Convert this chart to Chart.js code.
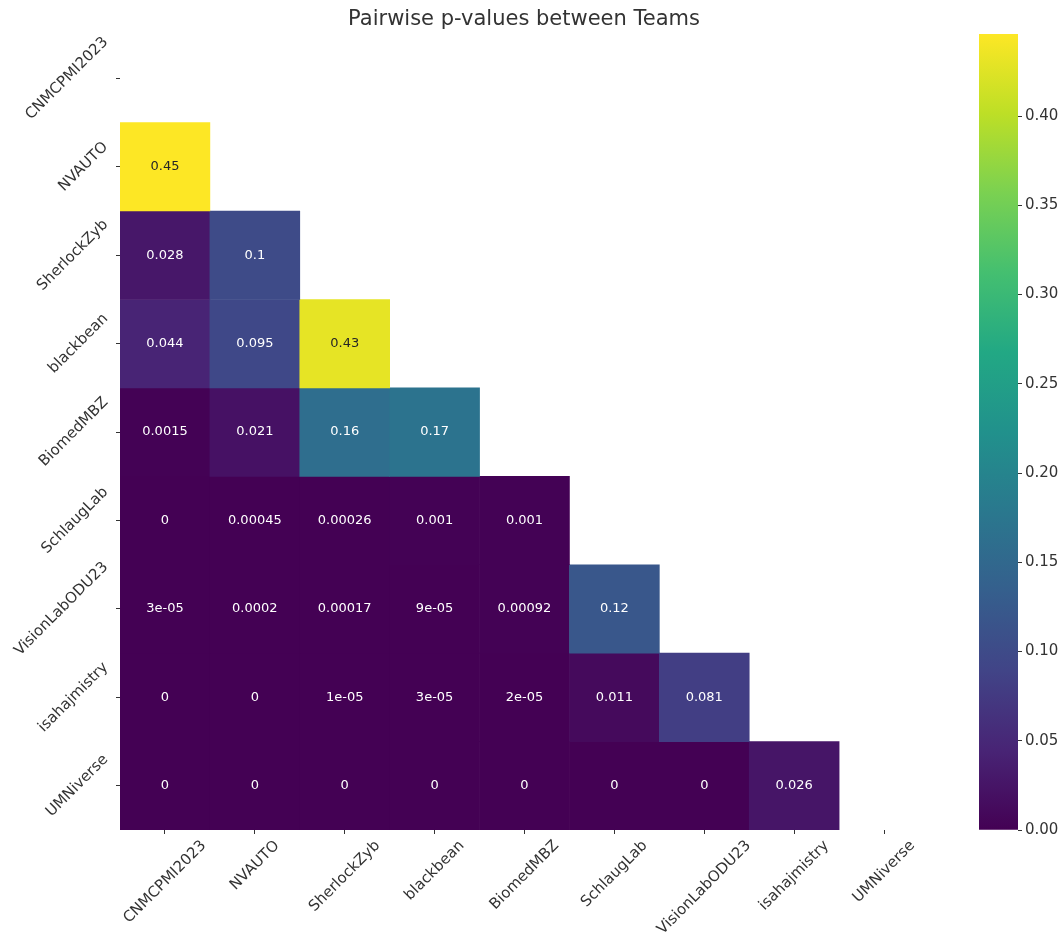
<!DOCTYPE html>
<html>
<head>
<meta charset="utf-8">
<script src="https://cdn.jsdelivr.net/npm/chart.js@4.4.1/dist/chart.umd.min.js"></script>
<style>
  body { margin: 0; background: #ffffff; }
  #wrap { position: relative; width: 1062px; height: 936px; }
  #heatBox { position: absolute; left: 0; top: 0; width: 1062px; height: 936px; }
  #barBox { position: absolute; left: 960px; top: 0; width: 102px; height: 936px; }
</style>
</head>
<body>
<div id="wrap">
  <div id="heatBox"><canvas id="heatChart"></canvas></div>
  <div id="barBox"><canvas id="colorBar"></canvas></div>
</div>
<script>
// ==========================================
// DATA
// ==========================================

const teams = [
    "CNMCPMI2023",
    "NVAUTO",
    "SherlockZyb",
    "blackbean",
    "BiomedMBZ",
    "SchlaugLab",
    "VisionLabODU23",
    "isahajmistry",
    "UMNiverse"
];

// lower triangle, row i holds the values against teams[0..i-1]
const pValues = [
    [],
    [0.446],
    [0.028, 0.1],
    [0.044, 0.095, 0.43],
    [0.0015, 0.021, 0.16, 0.17],
    [0, 0.00045, 0.00026, 0.001, 0.001],
    [3e-05, 0.0002, 0.00017, 9e-05, 0.00092, 0.12],
    [0, 0, 1e-05, 3e-05, 2e-05, 0.011, 0.081],
    [0, 0, 0, 0, 0, 0, 0, 0.026]
];

const colorTicks = [0, 0.05, 0.10, 0.15, 0.20, 0.25, 0.30, 0.35, 0.40];

const colorMax = Math.max(...pValues.flat());

// ==========================================
// HELPERS
// ==========================================

const viridisStops = [
    "#440154", "#482475", "#414487", "#355f8d", "#2a788e", "#21918c",
    "#22a884", "#44bf70", "#7ad151", "#bddf26", "#fde725"
];

function hexRgb(h){
    return [parseInt(h.slice(1,3),16), parseInt(h.slice(3,5),16), parseInt(h.slice(5,7),16)];
}

function viridisRgb(t){
    t = Math.max(0, Math.min(1, t));
    const pos = t * (viridisStops.length - 1);
    const k = Math.min(viridisStops.length - 2, Math.floor(pos));
    const f = pos - k;
    const a = hexRgb(viridisStops[k]);
    const b = hexRgb(viridisStops[k + 1]);
    return a.map((v, i) => Math.round(v + (b[i] - v) * f));
}

function rgbStr(c){
    return "rgb(" + c[0] + "," + c[1] + "," + c[2] + ")";
}

function luminance(c){
    const l = c.map(v => {
        v = v / 255;
        return v <= 0.03928 ? v / 12.92 : Math.pow((v + 0.055) / 1.055, 2.4);
    });
    return 0.2126 * l[0] + 0.7152 * l[1] + 0.0722 * l[2];
}

// like python's ".2g"
function fmt(v){
    if (v === 0) return "0";
    const e = Math.floor(Math.log10(Math.abs(v)));
    if (e < -4) {
        let s = v.toExponential(1).replace(/\.?0+e/, "e");
        return s.replace(/e([+-])(\d)$/, "e$10$2");
    }
    return String(parseFloat(v.toPrecision(2)));
}

const FONT = "'DejaVu Sans', 'Liberation Sans', sans-serif";

// ==========================================
// HEATMAP (floating bars, one dataset per row)
// ==========================================

const rowDatasets = [];

pValues.forEach((row, i) => {

    if (row.length === 0) return;

    rowDatasets.push({

        label: teams[i],

        data: teams.map((t, j) => j < row.length ? [i - 0.5, i + 0.5] : null),

        backgroundColor: teams.map((t, j) => j < row.length ? rgbStr(viridisRgb(row[j] / colorMax)) : "rgba(0,0,0,0)"),

        pValues: row,

        borderWidth: 0,

        barPercentage: 1,

        categoryPercentage: 1,

        grouped: false

    });

});

const labelPlugin = {

    id: "heatLabels",

    afterDatasetsDraw(chart){

        const ctx = chart.ctx;
        ctx.save();
        ctx.font = "13px " + FONT;
        ctx.textAlign = "center";
        ctx.textBaseline = "middle";

        chart.data.datasets.forEach((ds, d) => {
            const meta = chart.getDatasetMeta(d);
            ds.pValues.forEach((v, j) => {
                const bar = meta.data[j];
                const c = viridisRgb(v / colorMax);
                ctx.fillStyle = luminance(c) > 0.408 ? "#262626" : "#ffffff";
                ctx.fillText(fmt(v), bar.x, (bar.y + bar.base) / 2);
            });
        });

        ctx.restore();

    },

    afterDraw(chart){

        const ctx = chart.ctx;
        const area = chart.chartArea;
        const xs = chart.scales.x;
        const ys = chart.scales.y;
        const c45 = Math.SQRT1_2;
        const h = 15;

        ctx.save();
        ctx.font = "15px " + FONT;
        ctx.fillStyle = "#333333";
        ctx.textAlign = "center";
        ctx.textBaseline = "middle";

        teams.forEach((t, i) => {

            const w = ctx.measureText(t).width;
            const box = (w + h) * c45;

            // y labels: right edge of rotated box next to the tick, centred on row
            const yPix = ys.getPixelForValue(i);
            ctx.save();
            ctx.translate(area.left - 9 - box / 2, yPix);
            ctx.rotate(-Math.PI / 4);
            ctx.fillText(t, 0, 0);
            ctx.restore();

            // x labels: rotated box centred under the tick
            const xPix = xs.getPixelForValue(i);
            ctx.save();
            ctx.translate(xPix, area.bottom + 8 + box / 2);
            ctx.rotate(-Math.PI / 4);
            ctx.fillText(t, 0, 0);
            ctx.restore();

        });

        ctx.restore();

    }

};

new Chart(document.getElementById("heatChart"), {

    type: "bar",

    data: {

        labels: teams,

        datasets: rowDatasets

    },

    options: {

        responsive: true,

        maintainAspectRatio: false,

        animation: false,

        layout: {

            padding: { left: 119, right: 133, top: 0, bottom: 0 }

        },

        plugins: {

            legend: { display: false },

            tooltip: { enabled: false },

            title: {

                display: true,

                text: "Pairwise p-values between Teams",

                color: "#333333",

                font: { family: FONT, size: 21, weight: "normal" },

                padding: { top: 7, bottom: 2 }

            }

        },

        scales: {

            x: {

                type: "category",

                offset: true,

                border: { display: false },

                grid: { offset: false, drawOnChartArea: false, drawTicks: true, tickLength: 4, color: "#333333" },

                ticks: { display: false },

                afterFit(scale){ scale.height = 106; }

            },

            y: {

                type: "linear",

                reverse: true,

                min: -0.5,

                max: teams.length - 0.5,

                border: { display: false },

                grid: { drawOnChartArea: false, drawTicks: true, tickLength: 4, color: "#333333" },

                ticks: { display: false },

                afterBuildTicks(scale){ scale.ticks = teams.map((t, i) => ({ value: i })); },

                afterFit(scale){ scale.width = 1; }

            }

        }

    },

    plugins: [labelPlugin]

});

// ==========================================
// COLOUR BAR
// ==========================================

new Chart(document.getElementById("colorBar"), {

    type: "bar",

    data: {

        labels: [""],

        datasets: [{

            data: [[0, colorMax]],

            backgroundColor(context){

                const area = context.chart.chartArea;
                if (!area) return viridisStops[0];
                const g = context.chart.ctx.createLinearGradient(0, area.bottom, 0, area.top);
                viridisStops.forEach((s, k) => g.addColorStop(k / (viridisStops.length - 1), s));
                return g;

            },

            borderWidth: 0,

            barPercentage: 1,

            categoryPercentage: 1

        }]

    },

    options: {

        responsive: true,

        maintainAspectRatio: false,

        animation: false,

        layout: {

            padding: { left: 19, right: 0, top: 34, bottom: 106 }

        },

        plugins: {

            legend: { display: false },

            tooltip: { enabled: false }

        },

        scales: {

            x: { display: false },

            y: {

                position: "right",

                min: 0,

                max: colorMax,

                border: { display: false },

                grid: { drawOnChartArea: false, drawTicks: true, tickLength: 4, color: "#333333" },

                afterBuildTicks(scale){ scale.ticks = colorTicks.map(v => ({ value: v })); },

                ticks: {

                    padding: 3,

                    color: "#333333",

                    font: { family: FONT, size: 15 },

                    callback: v => v.toFixed(2)

                },

                afterFit(scale){ scale.width = 44; }

            }

        }

    }

});
</script>
</body>
</html>
